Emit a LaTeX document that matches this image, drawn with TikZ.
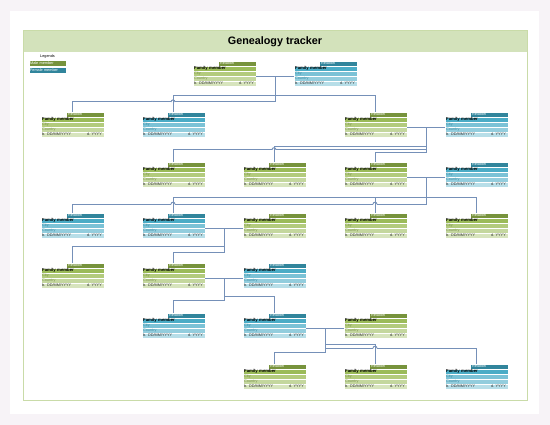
\documentclass[tikz,border=0pt]{standalone}
\usepackage{fontspec}
\setmainfont{Liberation Sans}
\usetikzlibrary{calc}

\definecolor{pagebg}{HTML}{F7F3F7}
\definecolor{framecol}{HTML}{C9DBA8}
\definecolor{titlebg}{HTML}{D3E2BB}
\definecolor{linkcol}{HTML}{7590B8}
\definecolor{maletab}{HTML}{77933C}
\definecolor{malefm}{HTML}{9BBB59}
\definecolor{malecity}{HTML}{B3CB7D}
\definecolor{malectry}{HTML}{C4D79E}
\definecolor{maledate}{HTML}{D7E4BD}
\definecolor{maletxt}{HTML}{7E9550}
\definecolor{femaletab}{HTML}{31859C}
\definecolor{femalefm}{HTML}{4BACC6}
\definecolor{femalecity}{HTML}{7BC2D6}
\definecolor{femalectry}{HTML}{93CDDD}
\definecolor{femaledate}{HTML}{B7DEE8}
\definecolor{femaletxt}{HTML}{3F8FA6}

\newcommand{\cardfont}{\fontsize{3.8}{4}\selectfont}
\newcommand{\cardbold}{\fontsize{4.3}{5}\selectfont\bfseries}

\tikzset{
  rowcell/.style={rectangle, anchor=north west, draw=white, line width=0.25pt,
    inner xsep=1pt, inner ysep=0pt, text width=61pt, minimum height=5pt,
    text height=2.8pt, text depth=0.8pt, align=left, font=\cardfont},
  tabcell/.style={rowcell, inner xsep=2pt, text width=34pt, text=white},
  datecell/.style={anchor=east, inner sep=0pt, font=\cardfont, text=black!80},
  legbox/.style={rowcell, text width=35pt, minimum height=5.5pt, text=white},
  titlebar/.style={rectangle, fill=titlebg, minimum width=504pt, minimum height=21pt,
    font=\fontsize{10.8}{13}\selectfont\bfseries},
  conn/.style={draw=linkcol, line width=1pt}
}

% card: #1 name, (#2,#3) top left corner, #4 male/female
\newcommand{\famcard}[4]{%
  \node[tabcell, fill=#4tab] (#1-tab) at (#2+25,#3) {Relation};
  \node[rowcell, fill=#4fm, font=\cardbold] (#1-fm) at (#2,#3+5) {Family member};
  \node[rowcell, fill=#4city, text=#4txt] (#1-city) at (#2,#3+10) {City};
  \node[rowcell, fill=#4ctry, text=#4txt] (#1-ctry) at (#2,#3+15) {Country};
  \node[rowcell, fill=#4date, text=black!80] (#1-date) at (#2,#3+20) {b. DD/MM/YYYY};
  \node[datecell] (#1-dod) at (#2+61,#3+22.5) {d. YYYY};
  \coordinate (#1-top) at (#2+31,#3);
}

% jump of a line over a crossing one
\newcommand{\linehop}[1]{%
  \fill[white] ($(#1)+(-2,-0.7)$) rectangle ($(#1)+(2,0.7)$);
  \draw[conn] ($(#1)+(0,-2.5)$) -- ($(#1)+(0,2.5)$);
  \draw[conn] ($(#1)+(-2,0)$) arc (180:0:2pt);
}

\begin{document}
\begin{tikzpicture}[x=1pt, y=-1pt]
\useasboundingbox (0,0) rectangle (550,425);

%% ── Page ───────────────────────────────────────────────
\fill[pagebg] (0,0) rectangle (550,425);
\fill[white] (10,11) rectangle (539,414);
\node[titlebar] (title) at (275,41.5) {Genealogy tracker};
\draw[framecol, line width=1pt] (23,31) rectangle (527,401);

%% ── Legend ─────────────────────────────────────────────
\node[font=\cardfont] (legend) at (47.5,57) {Legends};
\node[legbox, fill=maletab] (legmale) at (29,60.5) {Male member};
\node[legbox, fill=femaletab] (legfemale) at (29,67.5) {Female member};

%% ── Family members ─────────────────────────────────────
\famcard{g1m}{193}{61}{male}
\famcard{g1f}{294}{61}{female}

\famcard{g2a}{41}{112}{male}
\famcard{g2b}{142}{112}{female}
\famcard{g2c}{344}{112}{male}
\famcard{g2s}{445}{112}{female}

\famcard{g3a}{142}{162}{male}
\famcard{g3b}{243}{162}{male}
\famcard{g3c}{344}{162}{male}
\famcard{g3s}{445}{162}{female}

\famcard{g4a}{41}{213}{female}
\famcard{g4b}{142}{213}{female}
\famcard{g4s}{243}{213}{male}
\famcard{g4c}{344}{213}{male}
\famcard{g4d}{445}{213}{male}

\famcard{g5a}{41}{263}{male}
\famcard{g5b}{142}{263}{male}
\famcard{g5s}{243}{263}{female}

\famcard{g6a}{142}{313}{female}
\famcard{g6b}{243}{313}{female}
\famcard{g6s}{344}{313}{male}

\famcard{g7a}{243}{364}{male}
\famcard{g7b}{344}{364}{male}
\famcard{g7c}{445}{364}{female}

%% ── Couples ────────────────────────────────────────────
\draw[conn] (g1m-city.south east) -- (g1f-city.south west);
\coordinate (uA) at ($(g1m-city.south east)!0.5!(g1f-city.south west)$);
\draw[conn] (g2c-city.south east) -- (g2s-city.south west);
\coordinate (uB) at ($(g2c-city.south east)!0.5!(g2s-city.south west)$);
\draw[conn] (g3c-city.south east) -- (g3s-city.south west);
\coordinate (uC) at ($(g3c-city.south east)!0.5!(g3s-city.south west)$);
\draw[conn] (g4b-city.south east) -- (g4s-city.south west);
\coordinate (uD) at ($(g4b-city.south east)!0.5!(g4s-city.south west)$);
\draw[conn] (g5b-city.south east) -- (g5s-city.south west);
\coordinate (uE) at ($(g5b-city.south east)!0.5!(g5s-city.south west)$);
\draw[conn] (g6b-city.south east) -- (g6s-city.south west);
\coordinate (uF) at ($(g6b-city.south east)!0.5!(g6s-city.south west)$);

%% ── Children ───────────────────────────────────────────
% first couple
\draw[conn] (uA) -- ++(0,25.7) coordinate (lvA) -| (g2a-top);
\draw[conn] (uA) -- ++(0,19.7) -| (g2b-top);
\draw[conn] (uA) -- ++(0,19.7) -| (g2c-top);

% second couple
\draw[conn] (uB) -- ++(0,19) -| (g3b-top);
\draw[conn] (uB) -- ++(0,22.5) coordinate (lvB) -| (g3a-top);
\draw[conn] (uB) -- ++(0,25) -| (g3c-top);

% third couple
\draw[conn] (uC) -- ++(0,20) -| (g4b-top);
\draw[conn] (uC) -- ++(0,20) -| (g4c-top);
\draw[conn] (uC) -- ++(0,20) -| (g4d-top);
\draw[conn] (uC) -- ++(0,27) coordinate (lvC) -| (g4a-top);

% fourth couple
\draw[conn] (uD) -- ++(0,18) -| (g5a-top);
\draw[conn] (uD) -- ++(0,24) -| (g5b-top);

% fifth couple
\draw[conn] (uE) -- ++(0,22) -| (g6a-top);
\draw[conn] (uE) -- ++(0,18) -| (g6b-top);

% sixth couple
\draw[conn] (uF) -- ++(0,16) -| (g7b-top);
\draw[conn] (uF) -- ++(0,20) coordinate (lvF) -| (g7c-top);
\draw[conn] (uF) -- ++(0,24) -| (g7a-top);

% line jumps
\linehop{g2b-top |- lvA}
\linehop{g3b-top |- lvB}
\linehop{g4b-top |- lvC}
\linehop{g4c-top |- lvC}
\linehop{g7b-top |- lvF}

\end{tikzpicture}
\end{document}
